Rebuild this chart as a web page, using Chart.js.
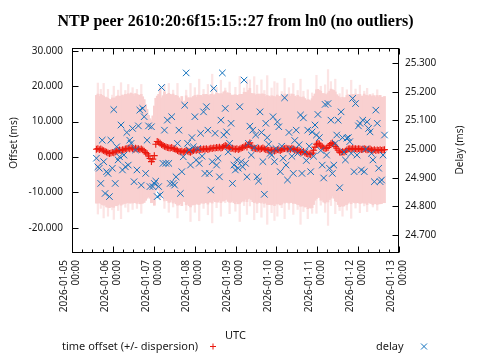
<!DOCTYPE html>
<html>
<head>
<meta charset="utf-8">
<script src="https://cdn.jsdelivr.net/npm/chart.js"></script>
<style>
  html, body { margin: 0; padding: 0; background: #fff; }
  canvas { display: block; }
</style>
</head>
<body>
<canvas id="c" width="480" height="360"></canvas>
<script>
// ---- data ----
const chartTitle = 'NTP peer 2610:20:6f15:15::27 from ln0 (no outliers)';
const dayTicks = ['2026-01-05','2026-01-06','2026-01-07','2026-01-08','2026-01-09',
                  '2026-01-10','2026-01-11','2026-01-12','2026-01-13'];
const offsetTicks = [-20, -10, 0, 10, 20, 30];
const delayTicks = [24.7, 24.8, 24.9, 25.0, 25.1, 25.2, 25.3];
const offsetRange = [-27.1, 30.8];
const delayRange = [24.637, 25.353];

// samples: one every 51 minutes starting 2026-01-05 14:20 UTC
const sampleStart = '2026-01-05T14:20:00Z';
const sampleStepMinutes = 51;

// time offset (ms)
const offsetMs = [
  2.2, 2.4, 2.1, 2.3, 2.0, 1.8, 1.6, 1.4, 1.2, 1.0,
  1.1, 1.3, 1.2, 1.5, 1.7, 1.9, 2.0, 1.8, 2.1, 2.0,
  2.3, 2.4, 2.5, 2.3, 2.6, 2.4, 2.2, 2.5, 2.3, 2.4,
  2.1, 2.3, 2.0, 1.7, 1.3, 0.9, 0.3, -0.4, -1.3, -0.6,
  0.4, 3.6, 4.4, 4.2, 3.9, 3.5, 3.3, 3.0, 2.9, 2.7,
  2.6, 2.5, 2.7, 2.4, 2.3, 2.1, 1.8, 1.6, 1.5, 1.7,
  1.4, 1.6, 1.9, 1.7, 1.5, 1.3, 1.6, 1.8, 2.0, 1.9,
  2.1, 2.0, 2.2, 2.1, 2.3, 2.2, 2.4, 2.1, 2.3, 2.5,
  2.4, 2.6, 2.5, 2.7, 2.6, 2.8, 2.5, 2.7, 3.0, 3.3,
  3.1, 2.8, 2.6, 2.4, 2.5, 2.3, 2.2, 2.4, 2.1, 2.3,
  2.5, 2.7, 2.9, 3.2, 2.8, 3.5, 4.0, 3.0, 2.6, 2.5,
  2.4, 2.3, 2.5, 2.2, 2.4, 2.6, 2.3, 2.1, 2.0, 1.9,
  1.8, 1.9, 2.0, 1.7, 1.9, 2.1, 2.0, 1.8, 2.1, 2.3,
  2.4, 2.5, 2.3, 2.4, 2.2, 2.5, 2.3, 2.1, 1.9, 2.0,
  1.8, 1.5, 1.3, 1.6, 1.2, 1.0, 0.8, 0.9, 0.7, 1.1,
  1.9, 2.8, 3.6, 3.9, 3.7, 3.2, 2.9, 2.6, 2.4, 2.5,
  2.7, 3.3, 3.8, 4.0, 3.6, 3.0, 2.5, 1.9, 1.4, 1.3,
  1.5, 1.4, 1.7, 2.0, 2.3, 2.4, 2.2, 2.5, 2.3, 2.4,
  2.2, 2.4, 2.3, 2.1, 2.2, 2.4, 2.2, 2.0, 2.2, 2.3,
  2.0, 1.9, 2.1, 1.8, 2.0, 1.9, 2.1, 1.9, 2.0, 2.1
];

// dispersion (ms), drawn as +/- around the offset
const dispersionMs = [
  15.2, 18.5, 15.0, 16.8, 15.4, 19.0, 15.1, 15.6, 17.9, 15.3,
  15.0, 16.2, 18.8, 15.2, 15.5, 17.0, 15.1, 19.2, 15.4, 15.0,
  16.5, 15.2, 18.0, 15.3, 15.6, 17.2, 15.0, 15.4, 16.8, 15.1,
  15.3, 18.2, 15.0, 14.5, 13.5, 12.5, 11.5, 11.2, 11.6, 12.2,
  14.0, 13.0, 12.8, 13.5, 16.0, 13.2, 14.0, 17.5, 14.6, 15.0,
  18.2, 15.2, 14.8, 16.5, 15.0, 15.3, 19.0, 15.1, 14.6, 15.4,
  13.8, 14.2, 17.0, 15.0, 15.2, 19.5, 15.1, 15.3, 17.6, 15.0,
  15.4, 20.0, 15.2, 14.9, 16.8, 15.1, 15.3, 18.4, 15.0, 15.2,
  21.0, 14.8, 15.1, 17.0, 15.3, 15.0, 19.2, 15.1, 15.4, 16.2,
  15.0, 15.3, 18.6, 15.1, 14.9, 15.2, 17.5, 15.0, 15.3, 20.5,
  15.2, 15.0, 16.6, 15.1, 19.0, 15.3, 17.8, 15.0, 15.2, 20.2,
  15.1, 18.0, 15.3, 15.0, 19.4, 15.2, 16.5, 15.0, 21.0, 15.3,
  15.1, 17.6, 15.2, 19.6, 15.0, 18.8, 15.1, 15.3, 16.4, 15.0,
  19.8, 15.2, 15.1, 17.2, 15.0, 15.3, 18.5, 15.1, 15.0, 16.8,
  15.2, 20.5, 15.1, 17.0, 15.3, 15.0, 18.2, 15.2, 15.1, 17.0,
  15.3, 15.0, 19.5, 15.2, 15.1, 16.8, 15.0, 15.3, 18.0, 15.1,
  22.0, 15.3, 17.5, 15.0, 15.2, 19.0, 15.1, 15.3, 16.5, 15.0,
  18.2, 15.2, 15.1, 17.0, 15.3, 15.0, 19.5, 15.2, 15.1, 16.8,
  15.0, 15.3, 18.0, 15.1, 15.0, 16.2, 15.2, 17.4, 15.0, 15.3,
  15.1, 16.0, 15.2, 15.0, 17.0, 15.1, 15.3, 15.0, 14.8, 15.0
];

// delay (ms), right axis
const delayMs = [
  24.968, 24.938, 24.933, 24.880, 25.031, 24.956, 24.845, 24.921, 24.915, 24.834,
  25.031, 24.933, 25.138, 24.880, 25.008, 24.962, 24.973, 25.084, 24.927, 24.979,
  24.938, 25.058, 24.944, 25.031, 25.020, 25.072, 24.886, 24.997, 24.927, 25.081,
  25.136, 24.874, 25.142, 25.113, 24.915, 25.031, 25.081, 24.869, 25.078, 24.869,
  24.880, 24.888, 24.834, 24.869, 24.840, 25.215, 24.950, 25.066, 24.950, 25.101,
  24.950, 24.880, 25.113, 24.880, 24.874, 24.903, 25.020, 25.066, 24.845, 24.921,
  24.973, 25.153, 25.266, 25.020, 24.997, 24.944, 25.040, 25.008, 25.113, 24.962,
  25.002, 24.950, 25.055, 24.975, 25.130, 24.915, 25.148, 25.066, 24.915, 24.857,
  24.956, 25.212, 25.055, 24.944, 24.968, 24.903, 25.101, 25.266, 25.049, 25.142,
  25.060, 24.990, 25.020, 25.090, 24.880, 24.944, 24.927, 24.962, 24.933, 25.148,
  24.956, 24.938, 25.241, 24.950, 24.903, 25.020, 25.080, 24.979, 25.066, 25.005,
  25.049, 24.903, 24.888, 25.130, 25.058, 24.956, 24.842, 25.090, 25.040, 25.017,
  24.985, 24.979, 25.113, 24.956, 25.002, 25.095, 25.078, 24.921, 25.010, 24.968,
  25.179, 24.944, 24.892, 25.058, 25.000, 24.975, 24.915, 25.030, 25.066, 24.985,
  25.015, 25.119, 24.915, 25.109, 24.990, 24.960, 25.066, 25.010, 24.921, 25.060,
  24.975, 25.084, 25.049, 25.121, 25.040, 24.995, 24.944, 24.899, 25.156, 24.979,
  25.159, 24.933, 25.101, 24.915, 24.944, 25.020, 25.049, 25.101, 24.865, 25.130,
  25.040, 24.990, 24.962, 25.038, 25.040, 25.026, 24.985, 25.177, 24.921, 25.159,
  24.979, 25.081, 25.090, 24.927, 25.101, 24.921, 25.000, 25.095, 25.072, 25.060,
  24.985, 24.962, 24.886, 25.136, 25.090, 24.933, 24.886, 24.892, 24.979, 25.049
];

// ---- styles ----
const RED = 'rgb(235,25,15)';
const BLUE = 'rgb(20,115,190)';
const PINK = 'rgb(249,208,208)';
const PINK_FAINT = 'rgb(252,228,228)';
const CORE_LIMIT = 15.4; // error bars longer than this are drawn faint beyond the limit
const TEXT = '#1a1a1a';
const FONT = "'Noto Sans', sans-serif";

const dayMs = d => Date.parse(d + 'T00:00:00Z');
const startMs = Date.parse(sampleStart);
const times = offsetMs.map((_, i) => startMs + i * sampleStepMinutes * 60000);

const bandFull = times.map((t, i) => ({ x: t, y: [offsetMs[i] - dispersionMs[i], offsetMs[i] + dispersionMs[i]] }));
const bandCore = times.map((t, i) => {
  const d = Math.min(dispersionMs[i], CORE_LIMIT);
  return { x: t, y: [offsetMs[i] - d, offsetMs[i] + d] };
});
const offsetData = times.map((t, i) => ({ x: t, y: offsetMs[i] }));
const delayData = times.map((t, i) => ({ x: t, y: delayMs[i] }));

Chart.defaults.font.family = FONT;
Chart.defaults.font.size = 10;
Chart.defaults.color = TEXT;

const framePlugin = {
  id: 'ntpFrame',
  afterDatasetsDraw(chart) {
    const { ctx, chartArea, scales } = chart;
    const { x, y, y2 } = scales;
    const L = chartArea.left + 0.5, R = chartArea.right - 0.5;
    const T = chartArea.top + 0.5, B = chartArea.bottom - 0.5;
    ctx.save();
    ctx.strokeStyle = '#000';
    ctx.lineWidth = 1;
    ctx.beginPath();
    const sixH = 6 * 3600000;
    for (let t = x.min; t <= x.max + 1; t += sixH) {
      const px = Math.round(x.getPixelForValue(t)) + 0.5;
      const major = ((t - x.min) % 86400000) === 0;
      const len = major ? 6 : 3;
      ctx.moveTo(px, B); ctx.lineTo(px, B - len);
      ctx.moveTo(px, T); ctx.lineTo(px, T + len);
    }
    offsetTicks.forEach(v => {
      const py = Math.round(y.getPixelForValue(v)) + 0.5;
      ctx.moveTo(L, py); ctx.lineTo(L + 6, py);
    });
    delayTicks.forEach(v => {
      const py = Math.round(y2.getPixelForValue(v)) + 0.5;
      ctx.moveTo(R, py); ctx.lineTo(R - 6, py);
    });
    ctx.stroke();
    ctx.strokeRect(L, T, R - L, B - T);
    ctx.restore();
  }
};

const textPlugin = {
  id: 'ntpText',
  afterDraw(chart) {
    const { ctx } = chart;
    ctx.save();
    ctx.fillStyle = TEXT;
    ctx.font = "10px " + FONT;
    ctx.textAlign = 'center';
    ctx.textBaseline = 'middle';
    ctx.translate(14, 143);
    ctx.rotate(-Math.PI / 2);
    ctx.fillText('Offset (ms)', 0, 0);
    ctx.setTransform(1, 0, 0, 1, 0, 0);
    ctx.translate(460, 150);
    ctx.rotate(-Math.PI / 2);
    ctx.fillText('Delay (ms)', 0, 0);
    ctx.setTransform(1, 0, 0, 1, 0, 0);
    const ly = 346.5;
    ctx.font = "11px " + FONT;
    ctx.textAlign = 'left';
    ctx.fillText('time offset (+/- dispersion)', 62, ly);
    ctx.fillText('delay', 376, ly);
    ctx.lineWidth = 1;
    ctx.strokeStyle = RED;
    ctx.beginPath();
    ctx.moveTo(210, ly); ctx.lineTo(216, ly);
    ctx.moveTo(213, ly - 3); ctx.lineTo(213, ly + 3);
    ctx.stroke();
    ctx.strokeStyle = BLUE;
    ctx.beginPath();
    ctx.moveTo(421, ly - 3); ctx.lineTo(427, ly + 3);
    ctx.moveTo(421, ly + 3); ctx.lineTo(427, ly - 3);
    ctx.stroke();
    ctx.restore();
  }
};

new Chart(document.getElementById('c'), {
  type: 'line',
  data: {
    datasets: [
      {
        type: 'bar', label: 'dispersion (faint)', data: bandFull, yAxisID: 'y',
        backgroundColor: PINK_FAINT, borderWidth: 0, barThickness: 1.6, grouped: false, order: 4
      },
      {
        type: 'bar', label: 'dispersion', data: bandCore, yAxisID: 'y',
        backgroundColor: PINK, borderWidth: 0, barThickness: 2, grouped: false, order: 3
      },
      {
        type: 'line', label: 'time offset (+/- dispersion)', data: offsetData, yAxisID: 'y',
        showLine: false, pointStyle: 'cross', pointRadius: 3.4, pointBorderWidth: 1.1,
        borderColor: RED, backgroundColor: RED, pointBorderColor: RED, order: 2
      },
      {
        type: 'line', label: 'delay', data: delayData, yAxisID: 'y2',
        showLine: false, pointStyle: 'crossRot', pointRadius: 4.6, pointBorderWidth: 1,
        borderColor: BLUE, backgroundColor: BLUE, pointBorderColor: BLUE, order: 1
      }
    ]
  },
  options: {
    responsive: false,
    animation: false,
    devicePixelRatio: 1,
    layout: { padding: { left: 0, top: 0, bottom: 0, right: 9 } },
    plugins: {
      legend: { display: false },
      tooltip: { enabled: false },
      title: {
        display: true, text: chartTitle, color: '#000', fullSize: true,
        font: { family: "'Liberation Serif', serif", size: 16, weight: 'bold', lineHeight: 1.2 },
        padding: { top: 12, bottom: 16.8 }
      }
    },
    scales: {
      x: {
        type: 'linear', position: 'bottom', offset: false,
        min: dayMs(dayTicks[0]), max: dayMs(dayTicks[dayTicks.length - 1]),
        afterBuildTicks: s => { s.ticks = dayTicks.map(d => ({ value: dayMs(d) })); },
        ticks: {
          autoSkip: false, maxRotation: 90, minRotation: 90, padding: 7, labelOffset: -8,
          color: TEXT, font: { size: 10 },
          callback: v => { const iso = new Date(v).toISOString(); return [iso.slice(0, 10), iso.slice(11, 16)]; }
        },
        grid: { display: false, drawTicks: false, offset: false },
        border: { display: false },
        title: { display: true, text: 'UTC', color: TEXT, font: { size: 11 }, padding: { top: 0, bottom: 18 } },
        afterFit: s => { s.height = 107; }
      },
      y: {
        type: 'linear', position: 'left', min: offsetRange[0], max: offsetRange[1],
        afterBuildTicks: s => { s.ticks = offsetTicks.map(v => ({ value: v })); },
        ticks: { padding: 9, color: TEXT, callback: v => v.toFixed(3) },
        grid: { display: false, drawTicks: false },
        border: { display: false },
        afterFit: s => { s.width = 72; }
      },
      y2: {
        type: 'linear', position: 'right', min: delayRange[0], max: delayRange[1],
        afterBuildTicks: s => { s.ticks = delayTicks.map(v => ({ value: v })); },
        ticks: { padding: 6, color: TEXT, callback: v => v.toFixed(3) },
        grid: { display: false, drawTicks: false },
        border: { display: false },
        afterFit: s => { s.width = 72; }
      }
    }
  },
  plugins: [framePlugin, textPlugin]
});
</script>
</body>
</html>
